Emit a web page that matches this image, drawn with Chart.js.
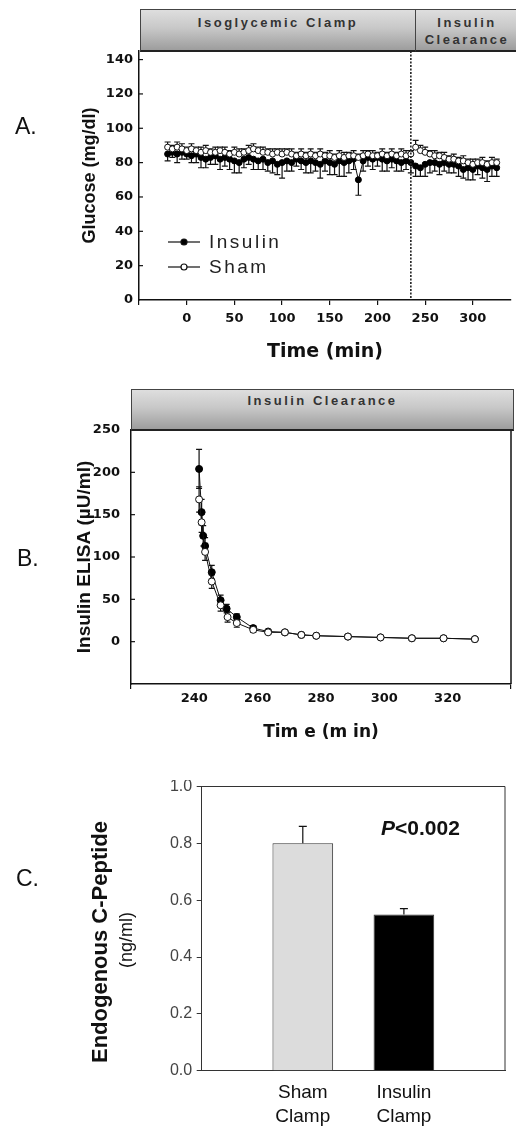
<!DOCTYPE html>
<html>
<head>
<meta charset="utf-8">
<script src="https://cdn.jsdelivr.net/npm/chart.js@4.4.1/dist/chart.umd.min.js"></script>
<style>
body{margin:0;background:#fff;width:516px;height:1126px;position:relative;overflow:hidden;font-family:"Liberation Sans",Arial,sans-serif;color:#111}
canvas{position:absolute;left:0}
#cA{top:0}
#cB{top:390px}
#cC{top:780px}
.lbl{position:absolute;font-size:23px;line-height:23px}
.hdr{position:absolute;box-sizing:border-box;border:1px solid #444;border-bottom:2px solid #222;background:linear-gradient(#dedede,#c8c8c8 45%,#9d9d9d);color:#333;font-weight:bold;font-size:13px;letter-spacing:2.5px;text-align:center;line-height:17px}
.rot{position:absolute;transform:rotate(-90deg);text-align:center;white-space:nowrap}
</style>
</head>
<body>
<canvas id="cA" width="516" height="390"></canvas>
<canvas id="cB" width="516" height="390"></canvas>
<canvas id="cC" width="516" height="346"></canvas>

<div class="lbl" style="left:15px;top:115px">A.</div>
<div class="lbl" style="left:17px;top:547px">B.</div>
<div class="lbl" style="left:16px;top:867px">C.</div>
<div class="hdr" style="left:140px;top:9px;width:276px;height:43px;padding-top:4px">Isoglycemic Clamp</div>
<div class="hdr" style="left:415px;top:9px;width:104px;height:43px;padding-top:4px">Insulin<br>Clearance</div>
<div class="hdr" style="left:131px;top:389px;width:383px;height:42px;padding-top:2px">Insulin Clearance</div>
<div class="rot" style="left:-30px;top:929px;width:260px;height:26px;line-height:26px;font-size:22px;font-weight:bold">Endogenous C-Peptide</div>
<div class="rot" style="left:86px;top:929px;width:80px;height:22px;line-height:22px;font-size:18px">(ng/ml)</div>
<div style="position:absolute;left:381px;top:816px;font:bold 21px/24px 'Liberation Sans',Arial,sans-serif;color:#111"><i>P</i>&lt;0.002</div>

<script>
// ---- panel A : glucose, clamp + clearance ----
var seriesNames = ['Insulin', 'Sham'];
var timeA = [-20,-15,-10,-5,0,5,10,15,20,25,
             30,35,40,45,50,55,60,65,70,75,
             80,85,90,95,100,105,110,115,120,125,
             130,135,140,145,150,155,160,165,170,175,
             180,185,190,195,200,205,210,215,220,225,
             230,235,240,245,250,255,260,265,270,275,
             280,285,290,295,300,305,310,315,320,325];
var insulinA = [85,86,85,86,85,84,85,83,82,83,
                84,82,83,82,81,80,82,83,82,81,
                82,80,81,79,80,81,80,82,81,80,
                81,80,79,81,80,79,81,80,81,82,
                70,81,83,82,83,82,81,82,81,80,
                81,80,78,77,79,80,80,79,80,79,
                79,78,76,77,76,78,77,76,78,77];
var insulinErrA = [4,3,5,4,3,4,5,6,5,4,
                   5,6,5,6,7,6,5,4,6,5,
                   6,5,7,6,9,6,5,4,5,6,
                   7,5,8,6,7,6,9,8,7,6,
                   9,6,5,6,5,7,6,5,6,5,
                   5,6,6,5,7,6,5,6,5,5,
                   5,6,5,7,6,5,6,7,6,5];
var shamA = [89,88,89,88,87,88,87,86,87,86,
             86,87,86,85,86,85,86,87,88,87,
             86,86,85,86,85,86,85,84,85,84,
             85,84,85,84,84,83,84,83,84,84,
             83,84,85,84,84,85,84,85,84,85,
             84,85,89,87,86,85,84,84,83,82,
             82,81,81,80,79,80,80,79,80,80];
var shamErrA = [3,2,3,3,2,3,2,3,3,2,
                3,2,3,2,3,3,2,3,3,2,
                3,2,3,2,3,2,3,2,3,2,
                3,2,3,2,3,2,3,3,2,3,
                2,3,2,3,2,3,2,3,2,3,
                3,2,4,3,3,2,3,2,3,2,
                3,2,3,2,3,2,3,2,3,2];
var xTicksA = [-50,0,50,100,150,200,250,300];
var yTicksA = [0,20,40,60,80,100,120,140];
var clampEnd = 235;

// ---- panel B : insulin clearance ----
var timeInsB = [241.5,242.3,242.8,243.4,245.5,248.3,250.2,253.4,258.6,263.3,268.6,273.8,278.5,288.5,298.8,308.7,318.7,328.6];
var insulinB = [204,153,125,113,82,49,39,29,16,12,11,8,7,6,5,4,4,3];
var insulinErrB = [23,15,12,10,8,6,5,4,3,2,2,1,1,1,1,1,1,1];
var timeShamB = [241.5,242.3,243.4,245.5,248.3,250.5,253.4,258.6,263.3,268.6,273.8,278.5,288.5,298.8,308.7,318.7,328.6];
var shamB = [168,141,106,71,43,29,22,14,11,11,8,7,6,5,4,4,3];
var shamErrB = [15,12,10,8,7,6,5,3,2,2,1,1,1,1,1,1,1];
var xTicksB = [220,240,260,280,300,320,340];
var yTicksB = [-50,0,50,100,150,200,250];

// ---- panel C : C-peptide ----
var groupsC = ['', ['Sham', 'Clamp'], ['Insulin', 'Clamp'], ''];
var peptideC = [null, 0.80, 0.55, null];
var peptideErrC = [0, 0.06, 0.02, 0];
var yTicksC = [0, 0.2, 0.4, 0.6, 0.8, 1.0];

Chart.defaults.font.family = '"DejaVu Sans", sans-serif';
Chart.defaults.color = '#111';

var boldTick = {family: '"DejaVu Sans", sans-serif', size: 13, weight: 'bold'};

function pts(xs, ys) {
    return xs.map(function (x, i) { return {x: x, y: ys[i]}; });
}
function fixSize(size, ticks) {
    return function (s) {
        if (s.isHorizontal()) s.height = size; else s.width = size;
        s.paddingLeft = 0; s.paddingRight = 0; s.paddingTop = 0; s.paddingBottom = 0;
    };
}
function setTicks(list) {
    return function (s) { s.ticks = list.map(function (v) { return {value: v}; }); };
}

// error bars, drawn before (under markers) or after the datasets
function errorBars(sets, after) {
    var draw = function (chart) {
        var ctx = chart.ctx, ys = chart.scales.y;
        ctx.save();
        ctx.strokeStyle = '#111';
        ctx.lineWidth = 1.2;
        sets.forEach(function (s) {
            var meta = chart.getDatasetMeta(s.index);
            var data = chart.data.datasets[s.index].data;
            meta.data.forEach(function (el, j) {
                var d = data[j];
                var v = (d !== null && typeof d === 'object') ? d.y : d;
                var e = s.err[j];
                if (v == null || !e) return;
                var x = el.x, y0 = ys.getPixelForValue(v);
                var ends = [];
                if (s.dir !== 'down') ends.push(ys.getPixelForValue(v + e));
                if (s.dir !== 'up') ends.push(ys.getPixelForValue(v - e));
                ends.forEach(function (y1) {
                    ctx.beginPath();
                    ctx.moveTo(x, y0); ctx.lineTo(x, y1);
                    ctx.moveTo(x - s.cap, y1); ctx.lineTo(x + s.cap, y1);
                    ctx.stroke();
                });
            });
        });
        ctx.restore();
    };
    return after ? {id: 'errA', afterDatasetsDraw: draw} : {id: 'errB', beforeDatasetsDraw: draw};
}

var innerTicks = {
    id: 'innerTicks',
    afterDraw: function (chart) {
        var ctx = chart.ctx, ys = chart.scales.y, a = chart.chartArea;
        ctx.save();
        ctx.strokeStyle = '#111';
        ctx.lineWidth = 1.2;
        ys.ticks.forEach(function (t) {
            var y = ys.getPixelForValue(t.value);
            if (y >= a.bottom - 1 || y <= a.top + 1) return;
            ctx.beginPath(); ctx.moveTo(a.left, y); ctx.lineTo(a.left + 4, y); ctx.stroke();
        });
        ctx.restore();
    }
};

var phaseLine = {
    id: 'phaseLine',
    afterDraw: function (chart) {
        var ctx = chart.ctx, a = chart.chartArea;
        var x = chart.scales.x.getPixelForValue(clampEnd);
        ctx.save();
        ctx.strokeStyle = '#222';
        ctx.lineWidth = 1.6;
        ctx.setLineDash([2, 1.5]);
        ctx.beginPath(); ctx.moveTo(x, a.top); ctx.lineTo(x, a.bottom); ctx.stroke();
        ctx.restore();
    }
};

var legendA = {
    id: 'legendA',
    afterDraw: function (chart) {
        var ctx = chart.ctx;
        var rows = [{name: seriesNames[0], fill: '#000', y: 242}, {name: seriesNames[1], fill: '#fff', y: 267}];
        ctx.save();
        ctx.font = '19px "Liberation Sans", Arial, sans-serif';
        ctx.letterSpacing = '2.5px';
        ctx.textBaseline = 'middle';
        ctx.fillStyle = '#222';
        rows.forEach(function (r) {
            ctx.strokeStyle = '#111';
            ctx.lineWidth = 1.2;
            ctx.beginPath(); ctx.moveTo(168, r.y); ctx.lineTo(200, r.y); ctx.stroke();
            ctx.beginPath(); ctx.arc(184, r.y, 3, 0, Math.PI * 2);
            ctx.fillStyle = r.fill; ctx.fill(); ctx.stroke();
            ctx.fillStyle = '#222';
            ctx.fillText(r.name, 209, r.y + 1);
        });
        ctx.restore();
    }
};

function frame(sides, color, width) {
    return {
        id: 'frame',
        afterDraw: function (chart) {
            var ctx = chart.ctx, a = chart.chartArea;
            ctx.save();
            ctx.strokeStyle = color;
            ctx.lineWidth = width;
            ctx.beginPath();
            if (sides.indexOf('top') >= 0) { ctx.moveTo(a.left, a.top); ctx.lineTo(a.right, a.top); }
            if (sides.indexOf('right') >= 0) { ctx.moveTo(a.right, a.top); ctx.lineTo(a.right, a.bottom); }
            ctx.stroke();
            ctx.restore();
        }
    };
}

// panel A
new Chart(document.getElementById('cA'), {
    type: 'line',
    data: {
        datasets: [
            {label: seriesNames[1], data: pts(timeA, shamA), borderColor: '#111', borderWidth: 1,
             pointRadius: 3, pointBackgroundColor: '#fff', pointBorderColor: '#111', pointBorderWidth: 1},
            {label: seriesNames[0], data: pts(timeA, insulinA), borderColor: '#111', borderWidth: 1,
             pointRadius: 3, pointBackgroundColor: '#000', pointBorderColor: '#000', pointBorderWidth: 1}
        ]
    },
    options: {
        responsive: false, animation: false,
        layout: {padding: {left: 79, right: 0, top: 51, bottom: 26.6}},
        plugins: {legend: {display: false}, tooltip: {enabled: false}},
        scales: {
            x: {type: 'linear', min: -50, max: 340,
                afterBuildTicks: setTicks(xTicksA), afterFit: fixSize(63.4),
                grid: {display: true, drawOnChartArea: false, drawTicks: true, tickLength: 5, color: '#111', lineWidth: 1.2},
                border: {display: true, color: '#111', width: 1.5},
                ticks: {font: boldTick, color: '#111', padding: 6, maxRotation: 0,
                        callback: function (v) { return v === -50 ? '' : v; }},
                title: {display: true, text: 'Time (min)', padding: 0, color: '#111',
                        font: {family: '"DejaVu Sans", sans-serif', size: 19, weight: 'bold', lineHeight: 1.2}}},
            y: {min: 0, max: 145,
                afterBuildTicks: setTicks(yTicksA), afterFit: fixSize(60),
                grid: {display: false, drawTicks: false},
                border: {display: true, color: '#111', width: 1.5},
                ticks: {font: boldTick, color: '#111', padding: 6},
                title: {display: true, text: 'Glucose (mg/dl)', padding: 0, color: '#111',
                        font: {family: '"Liberation Sans", Arial, sans-serif', size: 18, weight: 'bold', lineHeight: 1.2}}}
        }
    },
    plugins: [errorBars([{index: 1, err: insulinErrA, dir: 'down', cap: 3},
                         {index: 0, err: shamErrA, dir: 'up', cap: 3}], false),
              innerTicks, phaseLine, legendA]
});

// panel B
new Chart(document.getElementById('cB'), {
    type: 'line',
    data: {
        datasets: [
            {label: seriesNames[1], data: pts(timeShamB, shamB), borderColor: '#111', borderWidth: 1,
             pointRadius: 3.5, pointBackgroundColor: '#fff', pointBorderColor: '#111', pointBorderWidth: 1},
            {label: seriesNames[0], data: pts(timeInsB, insulinB), borderColor: '#111', borderWidth: 1,
             pointRadius: 3.5, pointBackgroundColor: '#000', pointBorderColor: '#000', pointBorderWidth: 1}
        ]
    },
    options: {
        responsive: false, animation: false,
        layout: {padding: {left: 73, right: 3, top: 40, bottom: 36.8}},
        plugins: {legend: {display: false}, tooltip: {enabled: false}},
        scales: {
            x: {type: 'linear', min: 220, max: 340,
                afterBuildTicks: setTicks(xTicksB), afterFit: fixSize(59.2),
                grid: {display: true, drawOnChartArea: false, drawTicks: true, tickLength: 5, lineWidth: 1.2,
                       color: function (c) { return (c.tick && (c.tick.value === 220 || c.tick.value === 340)) ? '#111' : 'rgba(0,0,0,0)'; }},
                border: {display: true, color: '#111', width: 1.5},
                ticks: {font: boldTick, color: '#111', padding: 2, maxRotation: 0,
                        callback: function (v) { return (v === 220 || v === 340) ? '' : v; }},
                title: {display: true, text: 'Tim e (m in)', padding: 0, color: '#111',
                        font: {family: '"DejaVu Sans", sans-serif', size: 17, weight: 'bold', lineHeight: 1.2}}},
            y: {min: -50, max: 250,
                afterBuildTicks: setTicks(yTicksB), afterFit: fixSize(58),
                grid: {display: false, drawTicks: false},
                border: {display: true, color: '#111', width: 1.5},
                ticks: {font: boldTick, color: '#111', padding: 11,
                        callback: function (v) { return v === -50 ? '' : v; }},
                title: {display: true, text: 'Insulin ELISA (µU/ml)', padding: 0, color: '#111',
                        font: {family: '"Liberation Sans", Arial, sans-serif', size: 19, weight: 'bold', lineHeight: 1.2}}}
        }
    },
    plugins: [errorBars([{index: 1, err: insulinErrB, dir: 'both', cap: 3},
                         {index: 0, err: shamErrB, dir: 'both', cap: 3}], false),
              innerTicks, frame(['right'], '#111', 1.5)]
});

// panel C
new Chart(document.getElementById('cC'), {
    type: 'bar',
    data: {
        labels: groupsC,
        datasets: [{
            data: peptideC,
            backgroundColor: ['#fff', '#dcdcdc', '#000', '#fff'],
            borderColor: '#333', borderWidth: 1,
            categoryPercentage: 1, barPercentage: 0.6
        }]
    },
    options: {
        responsive: false, animation: false,
        layout: {padding: {left: 0, right: 11, top: 6.5, bottom: 0}},
        plugins: {legend: {display: false}, tooltip: {enabled: false}},
        scales: {
            x: {type: 'category', offset: false, afterFit: fixSize(55.3),
                grid: {display: false, drawTicks: false},
                border: {display: true, color: '#333', width: 1},
                ticks: {color: '#111', padding: 10, maxRotation: 0, autoSkip: false,
                        font: {family: '"Liberation Sans", Arial, sans-serif', size: 19, lineHeight: 1.26}}},
            y: {min: 0, max: 1,
                afterBuildTicks: setTicks(yTicksC), afterFit: fixSize(201.7),
                grid: {display: true, drawOnChartArea: false, drawTicks: true, tickLength: 5, color: '#333', lineWidth: 1},
                border: {display: true, color: '#333', width: 1},
                ticks: {color: '#444', padding: 4.5,
                        font: {family: '"Liberation Sans", Arial, sans-serif', size: 16},
                        callback: function (v) { return v.toFixed(1); }}}
        }
    },
    plugins: [errorBars([{index: 0, err: peptideErrC, dir: 'up', cap: 4}], true),
              frame(['top', 'right'], '#333', 1)]
});
</script>
</body>
</html>
